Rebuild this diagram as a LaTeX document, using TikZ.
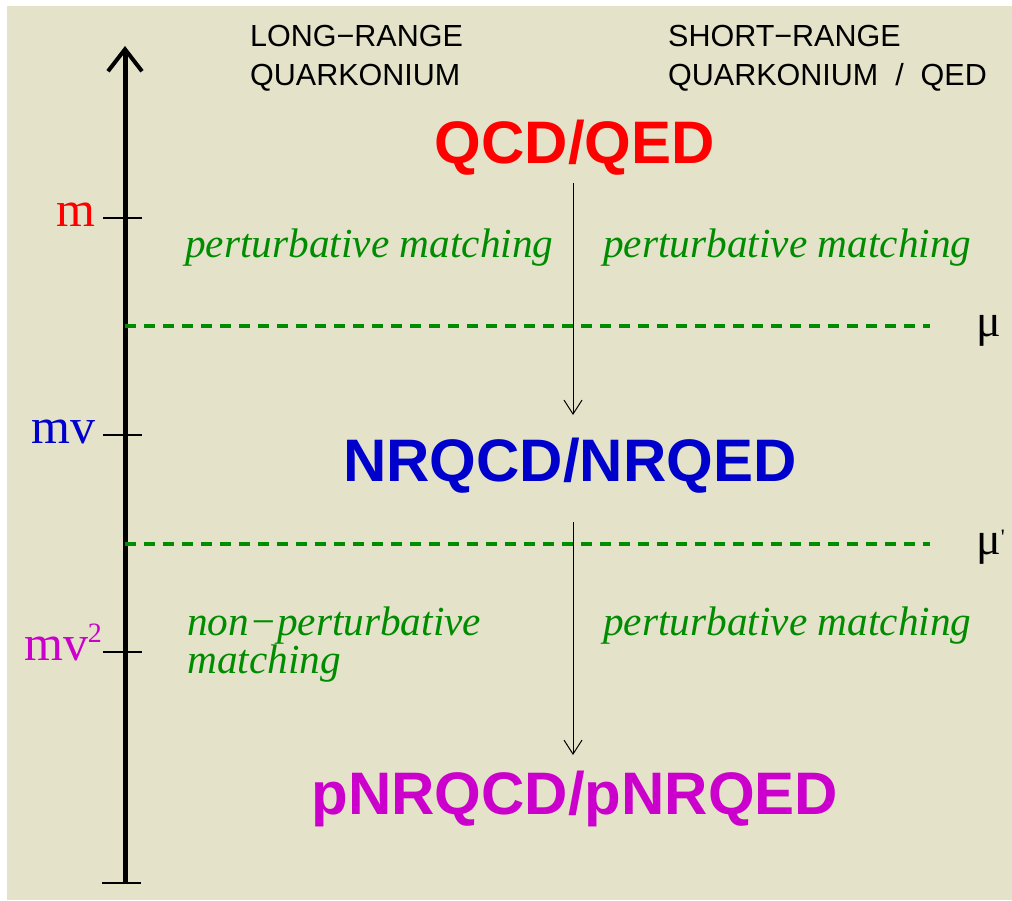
\documentclass[tikz,border=0pt]{standalone}
\usepackage{fontspec}
\setmainfont{Liberation Serif}
\setsansfont{Liberation Sans}
\usetikzlibrary{arrows.meta}
\definecolor{bg}{RGB}{228,227,201}
\definecolor{qred}{RGB}{255,0,0}
\definecolor{qblue}{RGB}{0,0,204}
\definecolor{qmag}{RGB}{204,0,204}
\definecolor{qgreen}{RGB}{0,140,0}
\tikzset{
  hdr/.style={anchor=base west, inner sep=0pt, font=\sffamily\fontsize{30.5}{30.5}\selectfont, text=black},
  theory/.style={anchor=base, inner sep=0pt, font=\sffamily\bfseries\fontsize{60}{60}\selectfont},
  match/.style={anchor=base west, inner sep=0pt, font=\itshape\fontsize{41.3}{41.3}\selectfont, text=qgreen},
  scale lbl/.style={anchor=base east, inner sep=0pt, font=\fontsize{50}{50}\selectfont},
  mulbl/.style={anchor=base west, inner sep=0pt, font=\fontsize{46}{46}\selectfont, text=black},
  tickline/.style={line width=1.5pt, black},
  cut/.style={qgreen, line width=4.5pt, dash pattern=on 11pt off 8pt},
  flow/.style={line width=1pt, -{Straight Barb[length=14pt,width=18pt,line width=1pt]}},
}
\begin{document}
\begin{tikzpicture}[x=1pt,y=-1pt]
\useasboundingbox (0,0) rectangle (1012,900);
\fill[white] (0,0) rectangle (1012,900);
\fill[bg] (7,6) rectangle (1012,900);
% axis
\coordinate (axbot) at (125,883);
\coordinate (axtop) at (125,46);
\draw[line width=5pt, -{Straight Barb[length=22pt,width=34pt,line width=4pt]}] (axbot) -- (axtop);
\draw[tickline] (102,883) -- (141,883);
\coordinate (tm) at (103,218);
\coordinate (tmv) at (103,435);
\coordinate (tmv2) at (103,652);
\draw[tickline] (tm) -- ++(39,0);
\draw[tickline] (tmv) -- ++(39,0);
\draw[tickline] (tmv2) -- ++(39,0);
\node[scale lbl, text=qred] (lm) at (96,226) {m};
\node[scale lbl, text=qblue] (lmv) at (96,443) {mv};
\node[scale lbl, text=qmag] (lmv2) at (102,660) {mv\kern-1pt\raisebox{0.36em}{\fontsize{28}{28}\selectfont 2}};
% headers
\node[hdr] (h1) at (250,46) {LONG−RANGE};
\node[hdr] (h2) at (250,85) {QUARKONIUM};
\node[hdr] (h3) at (668,46) {SHORT−RANGE};
\node[hdr] (h4) at (668,85) {QUARKONIUM\ \ /\ \ QED};
% theories
\node[theory, text=qred] (qcd) at (575,163) {QCD/QED};
\node[theory, text=qblue] (nrqcd) at (570,481) {NRQCD/NRQED};
\node[theory, text=qmag] (pnrqcd) at (575,814) {pNRQCD/pNRQED};
% arrows
\coordinate (a1s) at (573,183);
\coordinate (a1e) at (573,415);
\coordinate (a2s) at (573,522);
\coordinate (a2e) at (573,755);
\draw[flow] (a1s) -- (a1e);
\draw[flow] (a2s) -- (a2e);
% matching labels
\node[match] (pm1) at (185,257) {perturbative matching};
\node[match] (pm2) at (603,257) {perturbative matching};
\node[match] (npm1) at (187,635) {non−perturbative};
\node[match] (npm2) at (187,673) {matching};
\node[match] (pm3) at (603,635) {perturbative matching};
% cuts
\coordinate (c1a) at (125,326);
\coordinate (c1b) at (930,326);
\coordinate (c2a) at (125,544);
\coordinate (c2b) at (930,544);
\draw[cut] (c1a) -- (c1b);
\draw[cut] (c2a) -- (c2b);
\node[mulbl] (mu) at (976,336) {μ};
\node[mulbl] (mup) at (976,554) {μ\raisebox{0.2em}{\fontsize{22}{22}\selectfont\textquotesingle}};
\end{tikzpicture}
\end{document}
